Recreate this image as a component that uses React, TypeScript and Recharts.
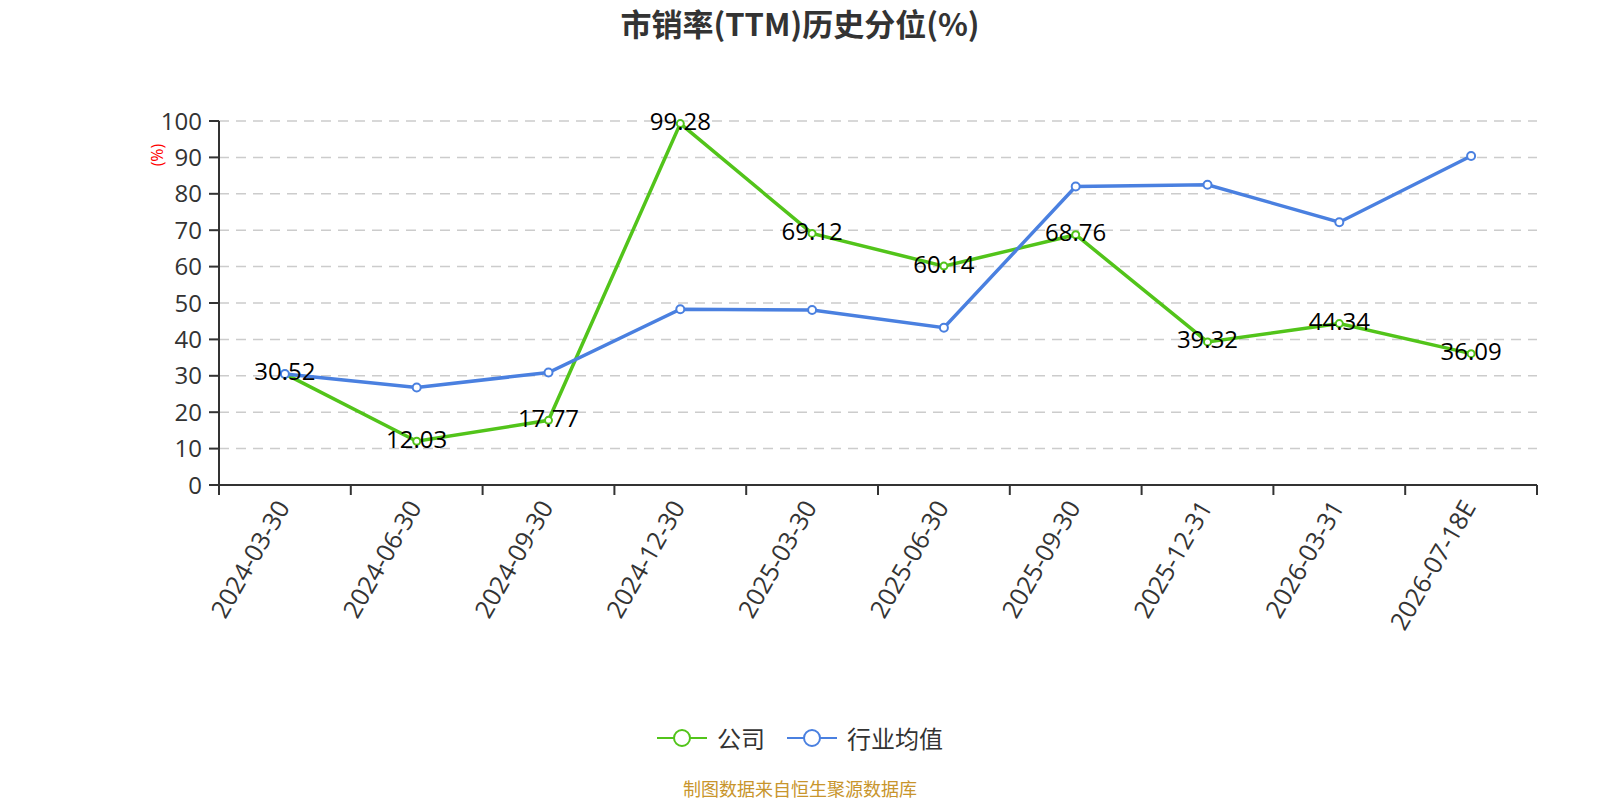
import React from 'react';
import { LineChart, Line, XAxis, YAxis, CartesianGrid, LabelList, Label } from 'recharts';

const categories = [
  '2024-03-30',
  '2024-06-30',
  '2024-09-30',
  '2024-12-30',
  '2025-03-30',
  '2025-06-30',
  '2025-09-30',
  '2025-12-31',
  '2026-03-31',
  '2026-07-18E',
];
const companyValues = [30.52, 12.03, 17.77, 99.28, 69.12, 60.14, 68.76, 39.32, 44.34, 36.09];
const industryValues = [30.5, 26.8, 30.9, 48.3, 48.1, 43.2, 82.0, 82.5, 72.2, 90.4];
const yTicks = [0, 10, 20, 30, 40, 50, 60, 70, 80, 90, 100];

const seriesNames = ['公司', '行业均值'];
const seriesColors = ['#52c41a', '#4a80e0'];

const data = categories.map((date, i) => ({
  date,
  company: companyValues[i],
  industry: industryValues[i],
}));

const FONT = '"Open Sans", "Noto Sans CJK SC", sans-serif';
const CJK = '"Noto Sans CJK SC", "Open Sans", sans-serif';

const XTick = (props: any) => {
  const { x, y, payload, index, visibleTicksCount } = props;
  const half = payload && typeof payload.offset === 'number' && payload.offset > 0 ? payload.offset : 65.9;
  const axisY = y - 16;
  const tx = x - 3;
  const ty = y + 1;
  return (
    <g>
      <line x1={x - half} x2={x - half} y1={axisY} y2={axisY + 10} stroke="#333" strokeWidth={2} />
      {index === visibleTicksCount - 1 && (
        <line x1={x + half} x2={x + half} y1={axisY} y2={axisY + 10} stroke="#333" strokeWidth={2} />
      )}
      <text
        x={tx}
        y={ty}
        textAnchor="end"
        dominantBaseline="central"
        transform={`rotate(-60, ${tx}, ${ty})`}
        fontSize={25}
        fill="#333"
        fontFamily={FONT}
      >
        {payload.value}
      </text>
    </g>
  );
};

const ValueLabel = (props: any) => {
  const { x, y, value } = props;
  return (
    <text x={x} y={y} dy={-3} textAnchor="middle" dominantBaseline="central" fontSize={24} fill="#000" fontFamily={FONT}>
      {value}
    </text>
  );
};

const YName = (props: any) => {
  const vb = props.viewBox || { x: 0, y: 121 };
  const cx = vb.x + 157;
  const cy = vb.y + 34;
  return (
    <text
      x={cx}
      y={cy}
      textAnchor="middle"
      dominantBaseline="central"
      transform={`rotate(-90, ${cx}, ${cy})`}
      fontSize={16}
      fill="#ff0000"
      fontFamily={FONT}
    >
      (%)
    </text>
  );
};

const LegendIcon = ({ color }: { color: string }) => (
  <svg width={50} height={20} style={{ display: 'block' }}>
    <line x1={0} y1={10} x2={50} y2={10} stroke={color} strokeWidth={2} />
    <circle cx={25} cy={10} r={8} fill="#fff" stroke={color} strokeWidth={2} />
  </svg>
);

export default function App() {
  return (
    <div style={{ position: 'absolute', left: 0, top: 0, width: 1600, height: 800, background: '#fff', overflow: 'hidden' }}>
      <div
        style={{
          position: 'absolute',
          left: 0,
          top: 3,
          width: 1600,
          textAlign: 'center',
          fontFamily: CJK,
          fontWeight: 'bold',
          fontSize: 31,
          lineHeight: '40px',
          color: '#333',
        }}
      >
        市销率(TTM)历史分位(%)
      </div>
      <LineChart width={1600} height={800} data={data} margin={{ top: 121, right: 63, bottom: 165, left: 0 }}>
        <CartesianGrid horizontal vertical={false} stroke="#cccccc" strokeWidth={1.5} strokeDasharray="10 7" />
        <XAxis
          dataKey="date"
          type="category"
          scale="band"
          height={150}
          interval={0}
          axisLine={{ stroke: '#333', strokeWidth: 2 }}
          tickLine={false}
          tickSize={10}
          tickMargin={6}
          tick={(p: any) => <XTick {...p} />}
        />
        <YAxis
          type="number"
          domain={[0, 100]}
          ticks={yTicks}
          interval={0}
          width={219}
          axisLine={{ stroke: '#333', strokeWidth: 2 }}
          tickLine={{ stroke: '#333', strokeWidth: 2 }}
          tickSize={10}
          tickMargin={7}
          tick={{ fontSize: 24, fill: '#333', fontFamily: FONT }}
        >
          <Label content={(p: any) => <YName {...p} />} />
        </YAxis>
        <Line
          type="linear"
          dataKey="company"
          name={seriesNames[0]}
          stroke={seriesColors[0]}
          strokeWidth={3.5}
          dot={{ r: 3.5, fill: '#fff', stroke: seriesColors[0], strokeWidth: 2 }}
          activeDot={false}
          isAnimationActive={false}
        />
        <Line
          type="linear"
          dataKey="industry"
          name={seriesNames[1]}
          stroke={seriesColors[1]}
          strokeWidth={3.5}
          dot={{ r: 4, fill: '#fff', stroke: seriesColors[1], strokeWidth: 2 }}
          activeDot={false}
          isAnimationActive={false}
        />
        <Line
          type="linear"
          dataKey="company"
          stroke="none"
          dot={false}
          activeDot={false}
          legendType="none"
          isAnimationActive={false}
        >
          <LabelList dataKey="company" content={(p: any) => <ValueLabel {...p} />} />
        </Line>
      </LineChart>
      <div
        style={{
          position: 'absolute',
          left: 0,
          top: 722,
          width: 1600,
          height: 32,
          display: 'flex',
          justifyContent: 'center',
          alignItems: 'center',
          fontFamily: CJK,
          fontSize: 24,
          color: '#333',
        }}
      >
        {seriesNames.map((name, i) => (
          <div key={name} style={{ display: 'flex', alignItems: 'center', marginLeft: i === 0 ? 0 : 22 }}>
            <LegendIcon color={seriesColors[i]} />
            <span style={{ marginLeft: 10, lineHeight: '32px' }}>{name}</span>
          </div>
        ))}
      </div>
      <div
        style={{
          position: 'absolute',
          left: 0,
          top: 776,
          width: 1600,
          textAlign: 'center',
          fontFamily: CJK,
          fontSize: 18,
          lineHeight: '24px',
          color: '#c8952c',
        }}
      >
        制图数据来自恒生聚源数据库
      </div>
    </div>
  );
}
